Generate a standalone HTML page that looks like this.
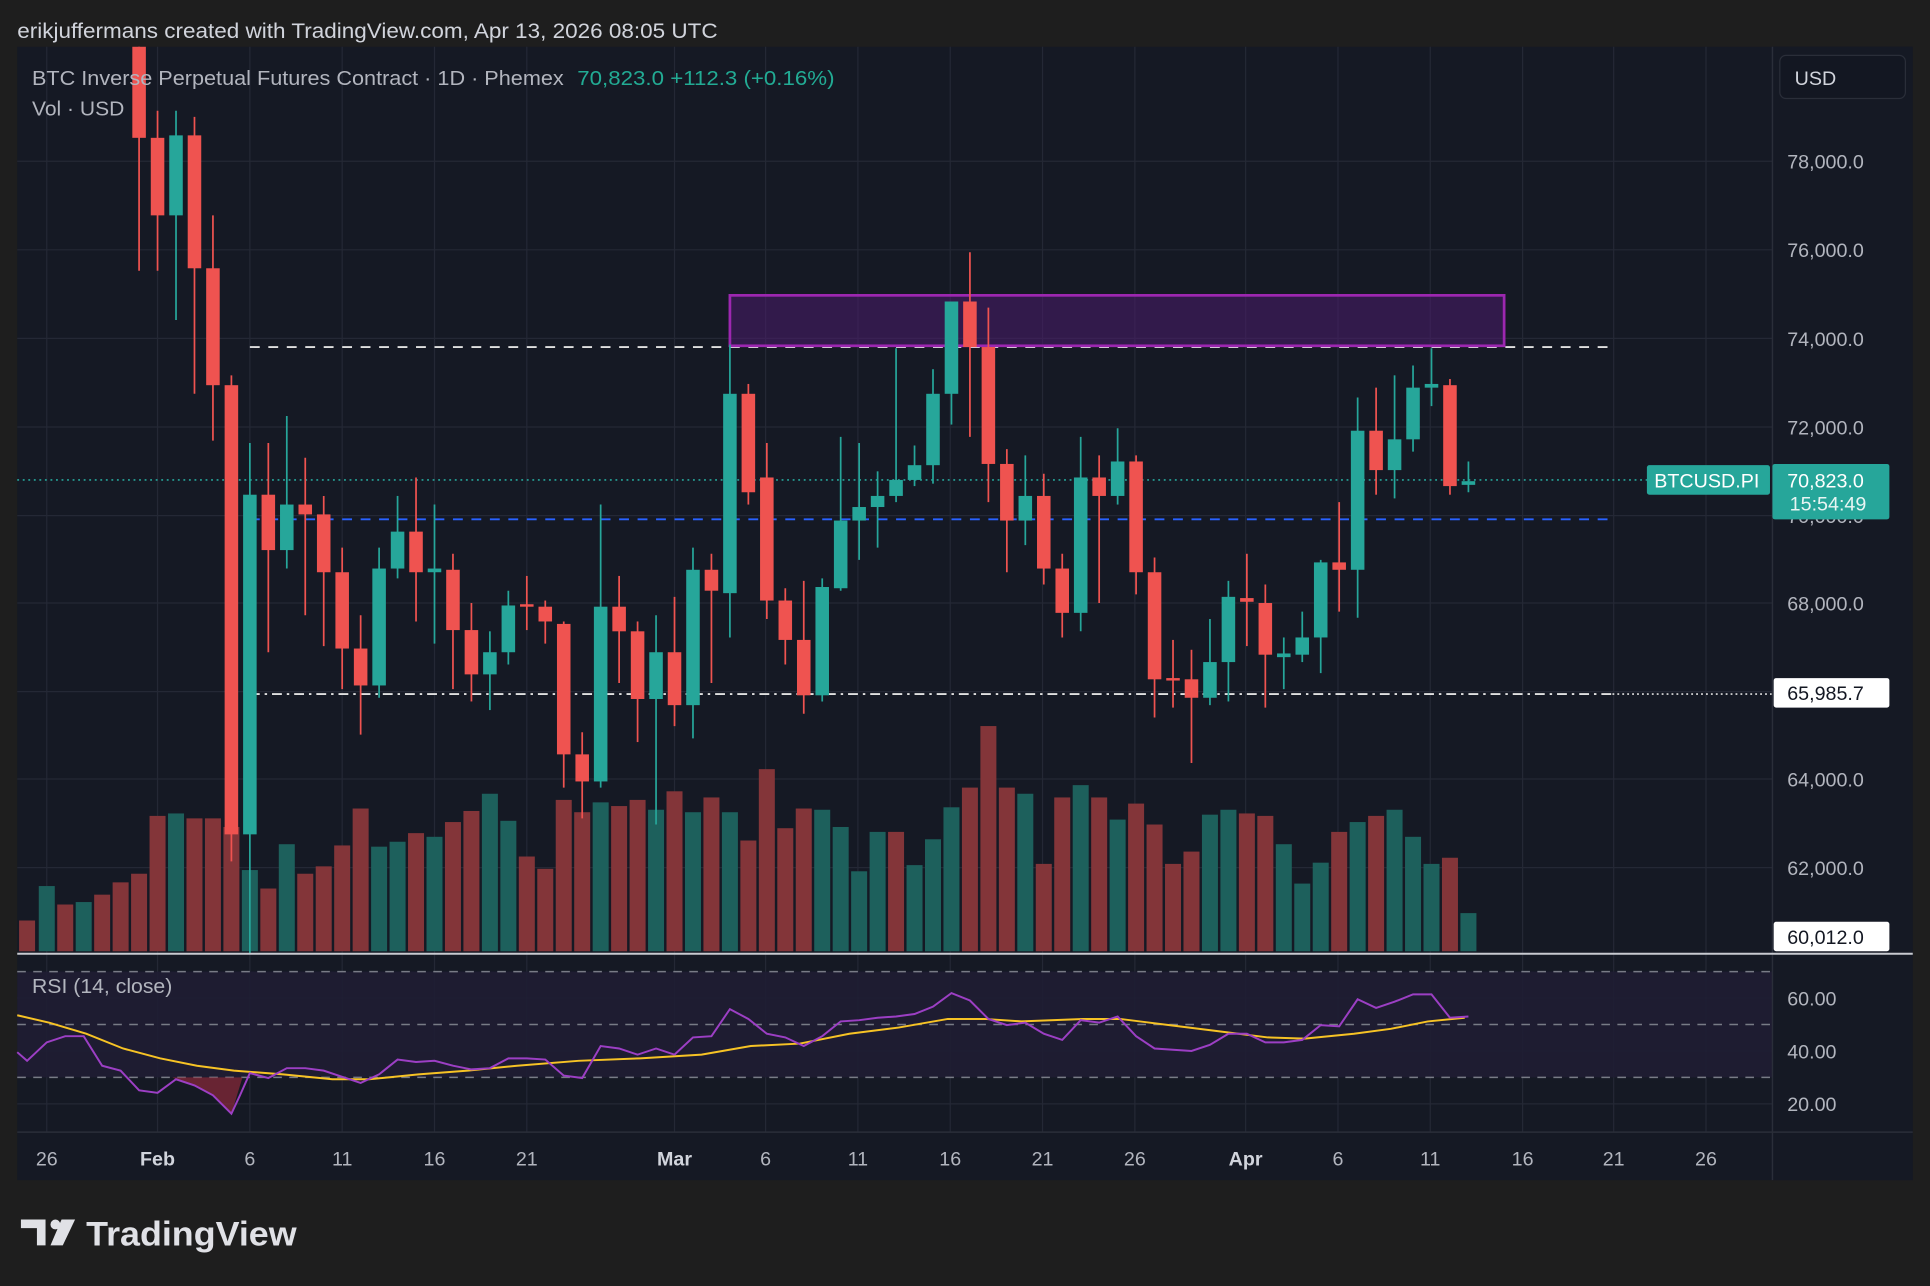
<!DOCTYPE html>
<html><head><meta charset="utf-8"><style>
html,body{margin:0;padding:0;background:#1e1e1e;}
svg{display:block;}
text{font-family:"Liberation Sans",sans-serif;}
</style></head><body>
<svg id="c" xmlns="http://www.w3.org/2000/svg" width="1930" height="1286" viewBox="0 0 1568 1045" preserveAspectRatio="none">
<rect x="0" y="0" width="1568" height="1045" fill="#1e1e1e"/>
<rect x="14" y="38" width="1540" height="921" fill="#151924"/>
<g id="grid" stroke="#242835" stroke-width="1"></g>
<rect x="14" y="789.5" width="1426" height="86" fill="#1f1d33" opacity="0.9"/>
<g id="vol"></g>
<g id="lines"></g>
<rect x="593" y="240" width="629" height="41" fill="#4a1c6b" fill-opacity="0.55" stroke="#9c27b0" stroke-width="2.2"/>
<g id="cand"></g>
<g id="rsi"></g>
<g id="axes"></g>
<text x="14" y="31" fill="#d1d4dc" font-size="17" textLength="569" lengthAdjust="spacingAndGlyphs">erikjuffermans created with TradingView.com, Apr 13, 2026 08:05 UTC</text>
<text x="26" y="69" fill="#b2b5be" font-size="16.5" textLength="432" lengthAdjust="spacingAndGlyphs">BTC Inverse Perpetual Futures Contract · 1D · Phemex</text>
<text x="469" y="69" fill="#22ab94" font-size="16.5" textLength="209" lengthAdjust="spacingAndGlyphs">70,823.0  +112.3 (+0.16%)</text>
<text x="26" y="94" fill="#b2b5be" font-size="16.5" textLength="75" lengthAdjust="spacingAndGlyphs">Vol · USD</text>
<text x="26" y="807" fill="#b2b5be" font-size="16.5" textLength="114" lengthAdjust="spacingAndGlyphs">RSI (14, close)</text>
<g fill="#e0e1e6">
<path d="M17 991 H37 V1012 H30 V998 H17 Z"/>
<circle cx="45" cy="995" r="4"/>
<path d="M50 991 H61 L51 1012 H41 Z"/>
<text x="70" y="1012" font-size="28" font-weight="bold" fill="#e0e1e6" textLength="171" lengthAdjust="spacingAndGlyphs">TradingView</text>
</g>
</svg>
<script>
var NS="http://www.w3.org/2000/svg";
function el(g,t,a,txt){var e=document.createElementNS(NS,t);for(var k in a)e.setAttribute(k,a[k]);if(txt!==undefined)e.textContent=txt;document.getElementById(g).appendChild(e);return e;}
var G="#26a69a",R="#ef5350";
[38,128,203,278,353,428,548,622,697,772,847,922,1012,1087,1162,1237,1311,1386].forEach(function(x){el("grid","line",{x1:x,y1:38,x2:x,y2:920});});
[131,203,275,347,419,490,562,633,705].forEach(function(y){el("grid","line",{x1:14,y1:y,x2:1440,y2:y});});
[811,854,897].forEach(function(y){el("grid","line",{x1:14,y1:y,x2:1440,y2:y});});
var vols=[[22,748,'r'],[38,720,'g'],[53,735,'r'],[68,733,'g'],[83,727,'r'],[98,717,'r'],[113,710,'r'],[128,663,'r'],[143,661,'g'],[158,665,'r'],[173,665,'r'],[188,672,'r'],[203,707,'g'],[218,722,'r'],[233,686,'g'],[248,710,'r'],[263,704,'r'],[278,687,'r'],[293,657,'r'],[308,688,'g'],[323,684,'g'],[338,677,'r'],[353,680,'g'],[368,668,'r'],[383,659,'r'],[398,645,'g'],[413,667,'g'],[428,696,'r'],[443,706,'r'],[458,650,'r'],[473,660,'r'],[488,652,'g'],[503,655,'r'],[518,650,'r'],[533,658,'g'],[548,643,'r'],[563,660,'g'],[578,648,'r'],[593,660,'g'],[608,683,'r'],[623,625,'r'],[638,673,'r'],[653,657,'r'],[668,658,'g'],[683,672,'g'],[698,708,'g'],[713,676,'g'],[728,676,'r'],[743,703,'g'],[758,682,'g'],[773,656,'g'],[788,640,'r'],[803,590,'r'],[818,640,'r'],[833,645,'g'],[848,702,'r'],[863,648,'r'],[878,638,'g'],[893,648,'r'],[908,666,'g'],[923,653,'r'],[938,670,'r'],[953,702,'r'],[968,692,'r'],[983,662,'g'],[998,658,'g'],[1013,661,'r'],[1028,663,'r'],[1043,686,'g'],[1058,718,'g'],[1073,701,'g'],[1088,676,'r'],[1103,668,'g'],[1118,663,'r'],[1133,658,'g'],[1148,680,'g'],[1163,702,'g'],[1178,697,'r'],[1193,742,'g']];
vols.forEach(function(v){el("vol","rect",{x:v[0]-6.5,y:v[1],width:13,height:773-v[1],fill:v[2]=='r'?"#833539":"#1d605c"});});
el("lines","line",{x1:14,y1:390,x2:1440,y2:390,stroke:"#26a69a","stroke-width":1.3,"stroke-dasharray":"1.5 3"});
el("lines","line",{x1:203,y1:282,x2:1310,y2:282,stroke:"#e0e0e0","stroke-width":1.5,"stroke-dasharray":"8 7"});
el("lines","line",{x1:203,y1:422,x2:1310,y2:422,stroke:"#2962ff","stroke-width":1.5,"stroke-dasharray":"8 7"});
el("lines","line",{x1:203,y1:564,x2:1310,y2:564,stroke:"#e0e0e0","stroke-width":1.5,"stroke-dasharray":"8 4 2 4"});
el("lines","line",{x1:1310,y1:564,x2:1440,y2:564,stroke:"#e0e0e0","stroke-width":1.3,"stroke-dasharray":"1.5 2.5"});
var C=[[113,38,112,38,220,'r'],[128,112,175,90,220,'r'],[143,110,175,90,260,'g'],[158,110,218,95,320,'r'],[173,218,313,175,358,'r'],[188,313,678,305,700,'r'],[203,402,678,360,775,'g'],[218,402,447,360,530,'r'],[233,410,447,338,462,'g'],[248,410,418,372,500,'r'],[263,418,465,403,525,'r'],[278,465,527,445,560,'r'],[293,527,557,500,597,'r'],[308,462,557,445,567,'g'],[323,432,462,403,470,'g'],[338,432,465,388,505,'r'],[353,462,465,410,523,'g'],[368,463,512,450,560,'r'],[383,512,548,490,570,'r'],[398,530,548,513,577,'g'],[413,492,530,480,540,'g'],[428,491,493,468,512,'r'],[443,493,505,488,523,'r'],[458,507,613,505,640,'r'],[473,613,635,595,665,'r'],[488,493,635,410,640,'g'],[503,493,513,468,555,'r'],[518,513,568,505,603,'r'],[533,530,568,500,670,'g'],[548,530,573,485,590,'r'],[563,463,573,445,600,'g'],[578,463,480,450,555,'r'],[593,320,482,280,518,'g'],[608,320,400,312,410,'r'],[623,388,488,360,503,'r'],[638,488,520,478,540,'r'],[653,520,565,472,580,'r'],[668,477,565,470,570,'g'],[683,423,478,355,480,'g'],[698,412,423,360,455,'g'],[713,403,412,383,445,'g'],[728,390,403,283,408,'g'],[743,378,390,362,395,'g'],[758,320,378,300,393,'g'],[773,245,320,245,345,'g'],[788,245,282,205,355,'r'],[803,282,377,250,408,'r'],[818,377,423,365,465,'r'],[833,403,423,370,443,'g'],[848,403,462,385,475,'r'],[863,462,498,450,518,'r'],[878,388,498,355,513,'g'],[893,388,403,370,490,'r'],[908,375,403,348,410,'g'],[923,375,465,370,483,'r'],[938,465,552,453,583,'r'],[953,551,553,520,575,'r'],[968,552,567,528,620,'r'],[983,538,567,503,573,'g'],[998,485,538,472,570,'g'],[1013,486,489,450,525,'r'],[1028,490,532,475,575,'r'],[1043,531,534,518,560,'g'],[1058,518,532,497,538,'g'],[1073,457,518,455,547,'g'],[1088,457,463,408,497,'r'],[1103,350,463,323,502,'g'],[1118,350,382,315,402,'r'],[1133,357,382,305,405,'g'],[1148,315,357,297,367,'g'],[1163,312,315,283,330,'g'],[1178,313,395,308,402,'r'],[1193,391,394,375,400,'g']];
C.forEach(function(c){var col=c[5]=='r'?R:G;
el("cand","line",{x1:c[0],y1:c[3],x2:c[0],y2:c[4],stroke:col,"stroke-width":1.4});
el("cand","rect",{x:c[0]-5.5,y:c[1],width:11,height:Math.max(2,c[2]-c[1]),fill:col});});
function rsiY(v){return 811+(60-v)*2.15;}
[70,50,30].forEach(function(v){el("rsi","line",{x1:14,y1:rsiY(v),x2:1440,y2:rsiY(v),stroke:"#787b86","stroke-width":1.2,"stroke-dasharray":"7 6"});});
el("rsi","polygon",{points:"140,875.5 143,877 158,882 173,890 188,905 197,875.5",fill:"#8b2a3a",opacity:0.7});
var P="14,855 22,862 38,847 53,842 68,842 83,866 98,870 113,886 128,888 143,877 158,882 173,890 188,905 195,890 203,872 218,876 233,868 248,868 263,870 278,875 293,880 308,873 323,861 338,863 353,862 368,866 383,869 398,868 413,860 428,860 443,861 458,874 473,876 488,850 503,852 518,857 533,852 548,857 563,843 578,842 593,820 608,828 623,840 638,843 653,850 668,842 683,830 698,829 713,827 728,826 743,824 758,818 773,807 788,813 803,828 818,833 833,831 848,840 863,845 878,829 893,831 908,826 923,842 938,852 953,853 968,854 983,849 998,840 1013,840 1028,847 1043,847 1058,845 1073,833 1088,834 1103,812 1118,819 1133,814 1148,808 1163,808 1178,827 1193,826";
var Y="14,825 40,831 70,840 100,852 130,860 160,866 190,870 230,873 270,877 300,877 340,873 380,870 420,866 470,862 520,860 570,857 610,850 650,848 690,840 730,835 770,828 800,828 830,830 880,828 910,828 950,833 990,838 1030,843 1060,844 1100,840 1130,836 1160,830 1190,827";
el("rsi","polyline",{points:Y,fill:"none",stroke:"#f7c325","stroke-width":1.6});
el("rsi","polyline",{points:P,fill:"none",stroke:"#9c3fc4","stroke-width":1.6});
el("axes","rect",{x:1440,y:38,width:114,height:921,fill:"#151924"});
el("axes","line",{x1:1440,y1:38,x2:1440,y2:959,stroke:"#2a2e39","stroke-width":1.2});
el("axes","line",{x1:14,y1:775,x2:1554,y2:775,stroke:"#c8cad0","stroke-width":1.6});
el("axes","line",{x1:14,y1:920,x2:1554,y2:920,stroke:"#2a2e39","stroke-width":1.2});
el("axes","rect",{x:1446,y:45,width:102,height:35,rx:5,fill:"#131722",stroke:"#2a2e39"});
el("axes","text",{x:1458,y:69,fill:"#d1d4dc","font-size":16},"USD");
[[131,"78,000.0"],[203,"76,000.0"],[275,"74,000.0"],[347,"72,000.0"],[490,"68,000.0"],[633,"64,000.0"],[705,"62,000.0"]].forEach(function(t){el("axes","text",{x:1452,y:t[0]+6,fill:"#b2b5be","font-size":16},t[1]);});
el("axes","text",{x:1452,y:425,fill:"#b2b5be","font-size":16},"70,000.0");
[[811,"60.00"],[854,"40.00"],[897,"20.00"]].forEach(function(t){el("axes","text",{x:1452,y:t[0]+6,fill:"#b2b5be","font-size":16},t[1]);});
el("axes","rect",{x:1338,y:378,width:100,height:24,rx:2,fill:"#26a69a"});
el("axes","text",{x:1344,y:396,fill:"#ffffff","font-size":16},"BTCUSD.PI");
el("axes","rect",{x:1440,y:377,width:95,height:45,rx:2,fill:"#26a69a"});
el("axes","text",{x:1452,y:396,fill:"#ffffff","font-size":16},"70,823.0");
el("axes","text",{x:1454,y:415,fill:"#e8f5f3","font-size":16},"15:54:49");
el("axes","rect",{x:1441,y:551,width:94,height:24,rx:2,fill:"#ffffff"});
el("axes","text",{x:1452,y:569,fill:"#131722","font-size":16},"65,985.7");
el("axes","rect",{x:1441,y:749,width:94,height:24,rx:2,fill:"#ffffff"});
el("axes","text",{x:1452,y:767,fill:"#131722","font-size":16},"60,012.0");
[[38,"26"],[128,"Feb",1],[203,"6"],[278,"11"],[353,"16"],[428,"21"],[548,"Mar",1],[622,"6"],[697,"11"],[772,"16"],[847,"21"],[922,"26"],[1012,"Apr",1],[1087,"6"],[1162,"11"],[1237,"16"],[1311,"21"],[1386,"26"]].forEach(function(t){var a={x:t[0],y:947,fill:t[2]?"#d1d4dc":"#b2b5be","font-size":16,"text-anchor":"middle"};if(t[2])a["font-weight"]="bold";el("axes","text",a,t[1]);});
</script>
</body></html>
